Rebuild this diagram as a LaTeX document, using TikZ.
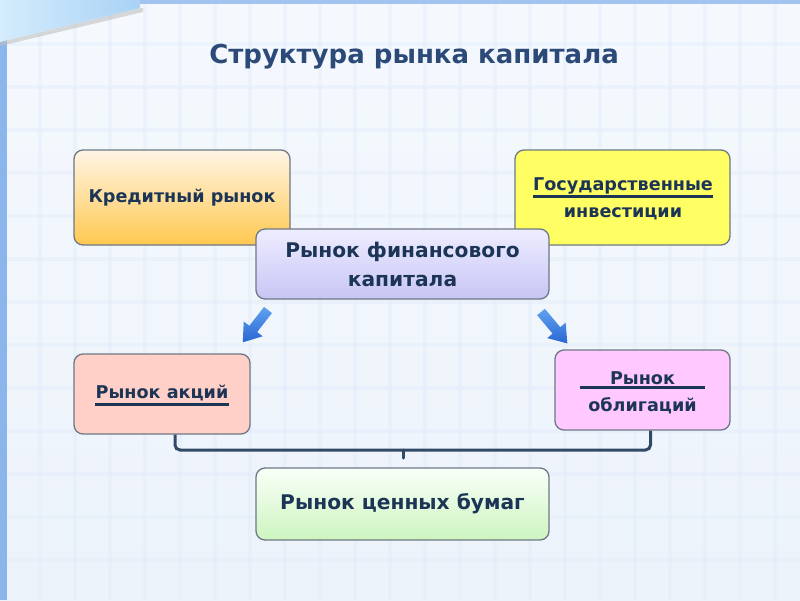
\documentclass[tikz,border=0pt]{standalone}
\usepackage{fontspec}
\setmainfont{DejaVu Sans}
\definecolor{navy}{HTML}{1C3557}
\definecolor{titlec}{HTML}{2B4A78}
\definecolor{boxline}{HTML}{6E7884}
\definecolor{gridc}{HTML}{E2ECFA}
\definecolor{bgtop}{HTML}{F5F9FE}
\definecolor{bgbot}{HTML}{EDF3FB}
\definecolor{framec}{HTML}{8AB6EC}
\definecolor{tabtop}{HTML}{D4ECFC}
\definecolor{tabbot}{HTML}{A9D2F5}
\definecolor{arrowc}{HTML}{2A66D2}
\definecolor{arrowl}{HTML}{5FA2F0}
\begin{document}
\begin{tikzpicture}[x=1pt,y=-1pt,
  box/.style={draw=boxline, line width=1.3pt, rounded corners=9pt, inner sep=0pt,
    font=\bfseries\fontsize{17.6}{29}\selectfont, text=navy, align=center},
  bigbox/.style={box, font=\bfseries\fontsize{20.2}{29}\selectfont},
  txt/.style={inner sep=0pt, font=\bfseries\fontsize{17.6}{21}\selectfont, text=navy},
  ul/.style={draw=navy, line width=3pt},
  brk/.style={draw=navy!90, line width=3pt, rounded corners=5pt},
  blockarrow/.style={top color=arrowl, bottom color=arrowc, draw=none}]
\useasboundingbox (0,0) rectangle (800,600);
% background
\shade[top color=bgtop, bottom color=bgbot] (0,0) rectangle (800,600);
\foreach \x in {5,40,...,800} \draw[gridc, line width=4pt, opacity=0.45] (\x,0) -- (\x,600);
\foreach \y in {1,44,...,600} \draw[gridc, line width=4pt, opacity=0.45] (0,\y) -- (800,\y);
% frame
\fill[framec] (0,30) rectangle (7,600);
\fill[framec!80] (130,0) rectangle (800,4);
\fill[black!25, opacity=0.6] (0,42) -- (140,8) -- (143,8) -- (143,12) -- (0,46) -- cycle;
\shade[left color=tabtop, right color=tabbot] (0,0) -- (140,0) -- (140,8) -- (0,42) -- cycle;
% title
\node[inner sep=0pt, font=\bfseries\fontsize{26}{30}\selectfont, text=titlec] (title) at (414,57) {Структура рынка капитала};
% boxes
\node[box, top color=yellow!20!orange!10!white, bottom color={rgb,255:red,255;green,200;blue,80},
  minimum width=216pt, minimum height=95pt] (kred) at (182,197.5) {Кредитный рынок};
\node[box, fill={rgb,255:red,255;green,255;blue,100}, minimum width=215pt, minimum height=95pt] (gov) at (622.5,197.5) {};
\node[txt] (gov1) at (623,186) {Государственные};
\node[txt] (gov2) at (623,214) {инвестиции};
\draw[ul] ([yshift=-2pt]gov1.south west) -- ([yshift=-2pt]gov1.south east);
\node[bigbox, top color={rgb,255:red,238;green,237;blue,255}, bottom color={rgb,255:red,200;green,197;blue,245},
  minimum width=293pt, minimum height=70pt] (fin) at (402.5,264) {Рынок финансового\\капитала};
\node[box, fill={rgb,255:red,255;green,208;blue,200}, minimum width=176pt, minimum height=80pt] (akc) at (162,394) {};
\node[txt] (akct) at (162,393) {Рынок акций};
\draw[ul] ([yshift=-3pt]akct.south west) -- ([yshift=-3pt]akct.south east);
\node[box, fill={rgb,255:red,255;green,201;blue,255}, minimum width=175pt, minimum height=80pt] (obl) at (642.5,390) {};
\node[txt] (obl1) at (642.5,378) {Рынок};
\node[txt] (obl2) at (642.5,406) {облигаций};
\draw[ul] ([yshift=-3pt,xshift=-8pt]obl1.south -| obl2.west) -- ([yshift=-3pt,xshift=8pt]obl1.south -| obl2.east);
\node[bigbox, top color={rgb,255:red,250;green,255;blue,248}, bottom color={rgb,255:red,204;green,245;blue,192},
  minimum width=293pt, minimum height=72pt] (cb) at (402.5,504) {Рынок ценных бумаг};
% block arrows
\coordinate (arlt) at (268,310);
\coordinate (arrt) at (541,312);
\begin{scope}[shift={(arlt)}, rotate=232]
  \shade[blockarrow] (0,-5) -- (24,-5) -- (24,-12) -- (41,0) -- (24,12) -- (24,5) -- (0,5) -- cycle;
\end{scope}
\begin{scope}[shift={(arrt)}, rotate=-50]
  \shade[blockarrow] (0,-5) -- (24,-5) -- (24,-12) -- (41,0) -- (24,12) -- (24,5) -- (0,5) -- cycle;
\end{scope}
% bracket
\coordinate (bl) at ([xshift=13pt]akc.south);
\coordinate (br) at ([xshift=8pt]obl.south);
\coordinate (bm) at (403,450);
\coordinate (bt) at (403,458);
\draw[brk] (bl) -- (bl |- bm) -- (br |- bm) -- (br);
\draw[brk, rounded corners=0pt, line cap=round] (bm) -- (bt);
\end{tikzpicture}
\end{document}
